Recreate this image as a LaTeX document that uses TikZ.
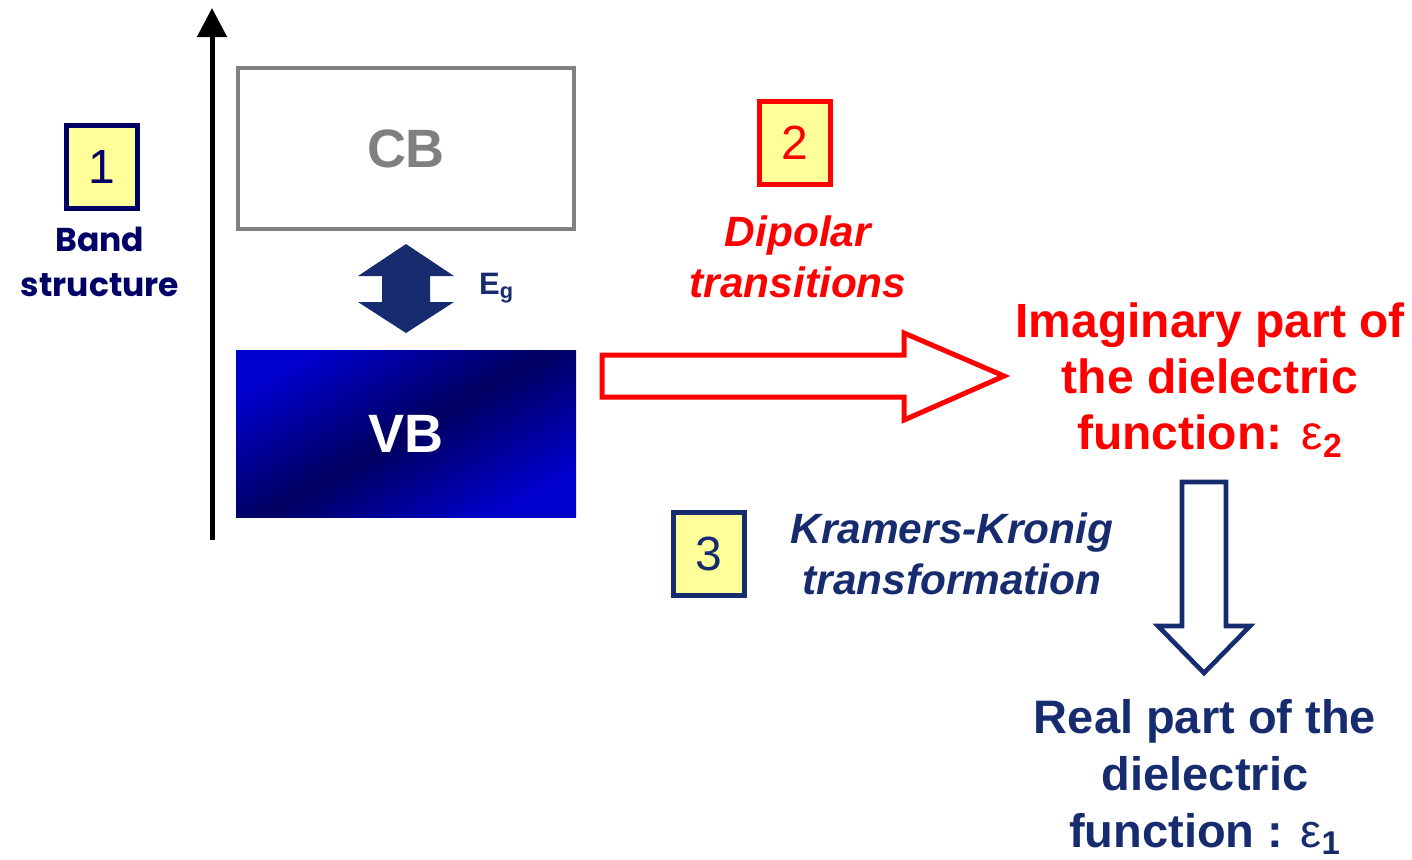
\documentclass[tikz,border=0pt]{standalone}
\usepackage{fontspec}
\setmainfont{Liberation Sans}
\newfontfamily\comicfont{Poppins}
\usetikzlibrary{arrows.meta, positioning, calc}
\definecolor{bandnavy}{HTML}{000066}
\definecolor{krnavy}{HTML}{172B6F}
\definecolor{numyellow}{HTML}{FFFF99}
\definecolor{cbgray}{HTML}{808080}
\definecolor{vbblue}{HTML}{0000CC}
\definecolor{vbdark}{HTML}{000060}
\definecolor{trred}{HTML}{FF0000}

\begin{document}
\begin{tikzpicture}[x=0.5pt, y=-0.5pt,
    numbox/.style={draw=#1, fill=numyellow, line width=2.3pt, minimum width=35.5pt,
                   minimum height=41.5pt, inner sep=0pt, text=#1, font=\fontsize{24}{24}\selectfont},
    bigtext/.style={align=center, font=\fontsize{24}{28}\selectfont\bfseries, text=#1},
    steplabel/.style={align=center, font=\fontsize{21.2}{25.5}\selectfont\bfseries\itshape, text=#1}]
    \useasboundingbox (0,0) rectangle (1412,859);

    % energy axis
    \coordinate (ebot) at (212,540);
    \coordinate (etop) at (212,8);
    \draw[-{Triangle[length=14.5pt, width=14.5pt]}, line width=2.5pt] (ebot) -- (etop);

    % step 1: band structure
    \node[numbox=bandnavy] (n1) at (102,167) {1};
    \node[align=center, font=\fontsize{16.5}{22.5}\selectfont\comicfont\bfseries, text=bandnavy]
        (band) at (100,262) {Band\\structure};

    % bands
    \node[draw=cbgray, line width=2pt, minimum width=168pt, minimum height=80.5pt,
          font=\fontsize{27}{27}\selectfont\bfseries, text=cbgray] (cb) at (406,148.5) {CB};
    \node[top color=vbblue, bottom color=vbblue, middle color=vbdark, shading angle=30,
          minimum width=170pt, minimum height=83.5pt,
          font=\fontsize{27}{27}\selectfont\bfseries, text=white] (vb) at (406,433.5) {VB};

    % gap
    \fill[krnavy] (406,244) -- (454,276) -- (430,276) -- (430,302) -- (454,302) -- (406,333)
        -- (358,302) -- (382,302) -- (382,276) -- (358,276) -- cycle;
    \node[font=\fontsize{15.5}{15.5}\selectfont\bfseries, text=krnavy, anchor=west]
        (eg) at (472,288) {E\textsubscript{g}};

    % step 2: dipolar transitions
    \node[numbox=trred] (n2) at (795,143) {2};
    \node[steplabel=trred] (dip) at (798,257) {Dipolar\\transitions};
    \draw[trred, line width=2.5pt, line join=miter, fill=white]
        (602,355) -- (904,355) -- (904,333) -- (1004,376) -- (904,420) -- (904,397) -- (602,397) -- cycle;
    \node[bigtext=trred] (eps2) at (1210,380)
        {Imaginary part of\\the dielectric\\function:\hspace{0.4em}{\mdseries ε}\textsubscript{2}};

    % step 3: Kramers-Kronig
    \node[numbox=krnavy] (n3) at (709,554) {3};
    \node[steplabel=krnavy] (kk) at (952,554) {Kramers-Kronig\\transformation};
    \draw[krnavy, line width=2.3pt, line join=miter, fill=white]
        (1182,482) -- (1226,482) -- (1226,626) -- (1250,626) -- (1204,673) -- (1158,626) -- (1182,626) -- cycle;
    \node[bigtext=krnavy, font=\fontsize{23.5}{28.5}\selectfont\bfseries] (eps1) at (1205,777)
        {Real part of the\\dielectric\\function : {\mdseries ε}\textsubscript{1}};
\end{tikzpicture}
\end{document}
